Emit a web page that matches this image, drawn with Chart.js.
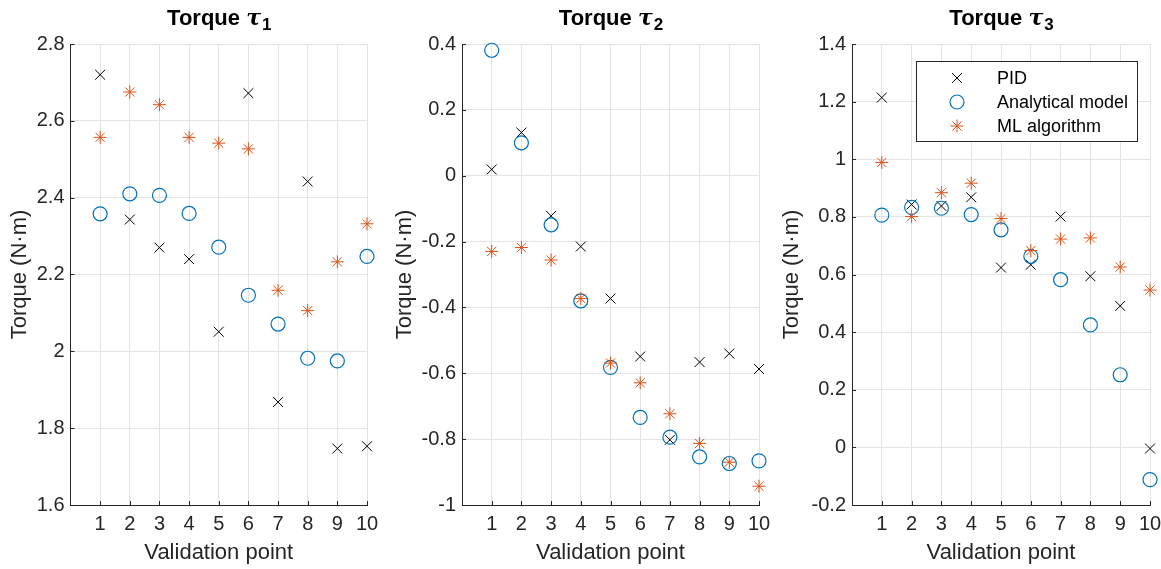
<!DOCTYPE html>
<html>
<head>
<meta charset="utf-8">
<script src="https://cdn.jsdelivr.net/npm/chart.js@4.4.1/dist/chart.umd.min.js"></script>
<style>
  html, body { margin: 0; padding: 0; background: #fff; }
  body { width: 1161px; height: 569px; position: relative; overflow: hidden; }
  .panel { position: absolute; top: 0; height: 569px; }
</style>
</head>
<body>
<div class="panel" style="left:0px;width:385px"><canvas id="tau1"></canvas></div>
<div class="panel" style="left:385px;width:385px"><canvas id="tau2"></canvas></div>
<div class="panel" style="left:770px;width:391px"><canvas id="tau3"></canvas></div>
<script>
// validation points on the x axis
const validationPoints = [1, 2, 3, 4, 5, 6, 7, 8, 9, 10];
const xTicks = [1, 2, 3, 4, 5, 6, 7, 8, 9, 10];
const seriesNames = ["PID", "Analytical model", "ML algorithm"];

// torque tau1 (N·m)
const tau1Pid   = [2.720, 2.343, 2.270, 2.240, 2.051, 2.672, 1.868, 2.442, 1.747, 1.753];
const tau1Model = [2.358, 2.410, 2.406, 2.359, 2.271, 2.146, 2.071, 1.982, 1.975, 2.247];
const tau1Ml    = [2.557, 2.675, 2.642, 2.557, 2.542, 2.527, 2.159, 2.106, 2.233, 2.332];
const tau1Range = [1.6, 2.8];

// torque tau2 (N·m)
const tau2Pid   = [0.019, 0.131, -0.122, -0.215, -0.373, -0.549, -0.802, -0.566, -0.540, -0.587];
const tau2Model = [0.381, 0.100, -0.149, -0.380, -0.582, -0.734, -0.794, -0.854, -0.874, -0.866];
const tau2Ml    = [-0.230, -0.218, -0.256, -0.373, -0.569, -0.629, -0.723, -0.813, -0.870, -0.943];
const tau2Range = [-1, 0.4];

// torque tau3 (N·m)
const tau3Pid   = [1.214, 0.843, 0.838, 0.868, 0.624, 0.634, 0.801, 0.594, 0.491, -0.004];
const tau3Model = [0.806, 0.833, 0.830, 0.808, 0.755, 0.663, 0.582, 0.425, 0.252, -0.112];
const tau3Ml    = [0.989, 0.801, 0.884, 0.917, 0.794, 0.683, 0.723, 0.727, 0.626, 0.546];
const tau3Range = [-0.2, 1.4];

const yStep = 0.2;

const AXIS = "#262626";
const GRID = "#e3e3e3";
const FONT = "'Liberation Sans', Arial, Helvetica, sans-serif";

const markerStyles = [
  { pointStyle: "crossRot", pointRadius: 7, borderColor: "#000000", borderWidth: 1 },
  { pointStyle: "circle", pointRadius: 7, borderColor: "#0072BD", borderWidth: 1.2 },
  { pointStyle: "star", pointRadius: 6.5, borderColor: "#D95319", borderWidth: 1 }
];

function toPoints(values) {
  return validationPoints.map((x, i) => ({ x: x, y: values[i] }));
}

// title "Torque τ_n" with italic tau and subscript
const titlePlugin = {
  id: "torqueTitle",
  afterDraw(chart, args, opts) {
    const ctx = chart.ctx;
    const a = chart.chartArea;
    ctx.save();
    ctx.fillStyle = "#000";
    ctx.textBaseline = "alphabetic";
    const f1 = "bold 22px " + FONT;
    const f2 = "italic bold 22px 'DejaVu Serif', serif";
    const f3 = "bold 17px " + FONT;
    ctx.font = f1; const w1 = ctx.measureText("Torque ").width;
    ctx.font = f2; const w2 = ctx.measureText("τ").width;
    ctx.font = f3; const w3 = ctx.measureText(opts.sub).width;
    let x = (a.left + a.right) / 2 - (w1 + w2 + w3) / 2;
    const y = 25;
    ctx.textAlign = "left";
    ctx.font = f1; ctx.fillText("Torque ", x, y); x += w1;
    ctx.font = f2; ctx.fillText("τ", x, y); x += w2 + 1;
    ctx.font = f3; ctx.fillText(opts.sub, x, y + 5);
    ctx.restore();
  }
};

// inward tick marks, MATLAB style
const ticksPlugin = {
  id: "inTicks",
  afterDatasetsDraw(chart) {
    const ctx = chart.ctx;
    const a = chart.chartArea;
    ctx.save();
    ctx.strokeStyle = AXIS;
    ctx.lineWidth = 1;
    ctx.beginPath();
    chart.scales.x.ticks.forEach(t => {
      const px = Math.round(chart.scales.x.getPixelForValue(t.value)) + 0.5;
      ctx.moveTo(px, a.bottom);
      ctx.lineTo(px, a.bottom - 4);
    });
    chart.scales.y.ticks.forEach(t => {
      const py = Math.round(chart.scales.y.getPixelForValue(t.value)) + 0.5;
      ctx.moveTo(a.left, py);
      ctx.lineTo(a.left + 4, py);
    });
    ctx.stroke();
    ctx.restore();
  }
};

// boxed legend inside the third panel
const boxLegendPlugin = {
  id: "boxLegend",
  afterDraw(chart, args, opts) {
    if (!opts.show) return;
    const ctx = chart.ctx;
    const a = chart.chartArea;
    const w = 221, h = 80;
    const left = a.right - 13 - w;
    const top = a.top + 17;
    ctx.save();
    ctx.fillStyle = "#fff";
    ctx.fillRect(left, top, w, h);
    ctx.strokeStyle = AXIS;
    ctx.lineWidth = 1;
    ctx.strokeRect(Math.round(left) + 0.5, Math.round(top) + 0.5, w, h);
    chart.data.datasets.forEach((ds, i) => {
      const y = top + 17 + i * 24;
      ctx.strokeStyle = ds.borderColor;
      ctx.fillStyle = "rgba(0,0,0,0)";
      ctx.lineWidth = ds.borderWidth;
      Chart.helpers.drawPoint(ctx, {
        pointStyle: ds.pointStyle, radius: ds.pointRadius, rotation: 0, borderWidth: ds.borderWidth
      }, left + 41, y);
      ctx.fillStyle = "#000";
      ctx.font = "18px " + FONT;
      ctx.textAlign = "left";
      ctx.textBaseline = "middle";
      ctx.fillText(ds.label, left + 81, y + 1);
    });
    ctx.restore();
  }
};

function makeChart(id, sub, pid, model, ml, range, axisWidth, rightPad, titleGap, legend) {
  const seriesValues = [pid, model, ml];
  const datasets = seriesValues.map((vals, i) => Object.assign({
    label: seriesNames[i],
    data: toPoints(vals),
    backgroundColor: "rgba(0,0,0,0)",
    pointHoverRadius: markerStyles[i].pointRadius,
    clip: false,
    order: 3 - i
  }, markerStyles[i]));

  return new Chart(document.getElementById(id), {
    type: "scatter",
    data: { datasets: datasets },
    options: {
      responsive: true,
      maintainAspectRatio: false,
      animation: false,
      layout: { padding: { left: 0, right: rightPad, top: 44, bottom: 0 } },
      plugins: {
        legend: { display: false },
        tooltip: { enabled: false },
        torqueTitle: { sub: sub },
        boxLegend: { show: legend }
      },
      scales: {
        x: {
          type: "linear",
          min: 0,
          max: 10,
          afterBuildTicks: s => { s.ticks = xTicks.map(v => ({ value: v })); },
          afterFit: s => { s.height = 64; s.paddingLeft = 0; s.paddingRight = 0; },
          grid: { color: GRID, drawTicks: false },
          border: { display: true, color: AXIS, width: 1 },
          ticks: {
            color: "#262626",
            font: { family: FONT, size: 20 },
            padding: 7,
            autoSkip: false,
            maxRotation: 0,
            callback: v => String(v)
          },
          title: {
            display: true,
            text: "Validation point",
            color: "#262626",
            font: { family: FONT, size: 22 },
            padding: { top: 0, bottom: 3 }
          }
        },
        y: {
          type: "linear",
          min: range[0],
          max: range[1],
          afterFit: s => { s.width = axisWidth; },
          grid: { color: GRID, drawTicks: false },
          border: { display: true, color: AXIS, width: 1 },
          ticks: {
            stepSize: yStep,
            color: "#262626",
            font: { family: FONT, size: 20 },
            padding: 6,
            callback: v => String(Math.round(v * 10) / 10)
          },
          title: {
            display: true,
            text: "Torque (N·m)",
            color: "#262626",
            font: { family: FONT, size: 22 },
            padding: { top: titleGap, bottom: 0 }
          }
        }
      }
    },
    plugins: [titlePlugin, ticksPlugin, boxLegendPlugin]
  });
}

makeChart("tau1", "1", tau1Pid, tau1Model, tau1Ml, tau1Range, 70.5, 18, 7, false);
makeChart("tau2", "2", tau2Pid, tau2Model, tau2Ml, tau2Range, 77, 11, 7, false);
makeChart("tau3", "3", tau3Pid, tau3Model, tau3Ml, tau3Range, 82, 11, 9, true);
</script>
</body>
</html>
